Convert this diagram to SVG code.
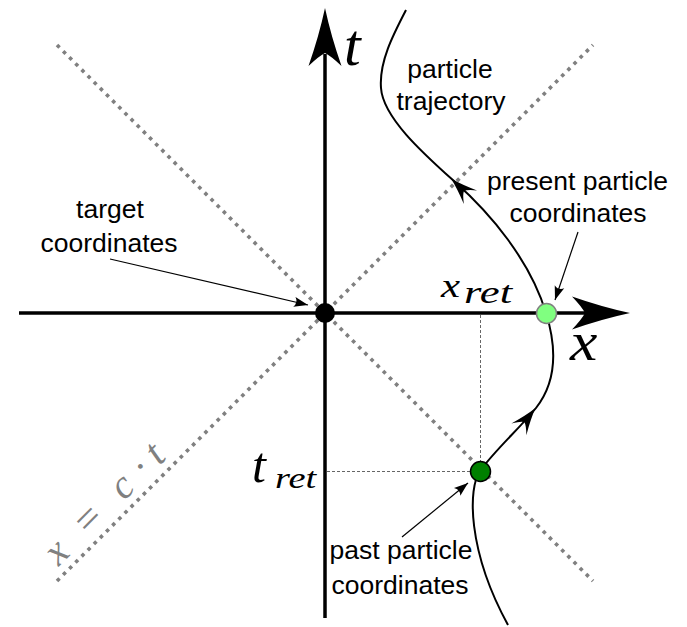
<svg xmlns="http://www.w3.org/2000/svg" width="687" height="627" viewBox="0 0 687 627">
  <defs>
    <style>
      .lbl { font-family: "Liberation Sans", Arial, sans-serif; font-size: 26.5px; fill: #000; text-anchor: middle; }
      .math { font-family: "Liberation Serif", "Times New Roman", serif; font-style: italic; fill: #000; }
      .gmath { font-family: "Liberation Serif", "Times New Roman", serif; fill: #808080; text-anchor: middle; }
      .lightcone { stroke: #808080; stroke-width: 3.6; stroke-dasharray: 3.6 5.1; fill: none; }
      .guide { stroke: #666; stroke-width: 1; stroke-dasharray: 3 2; fill: none; }
      .axis { stroke: #000; stroke-width: 3.5; fill: none; }
      .traj { stroke: #000; stroke-width: 2; fill: none; }
      .pointer { stroke: #000; stroke-width: 1.2; fill: none; marker-end: url(#thin); }
    </style>
    <marker id="thin" markerUnits="userSpaceOnUse" markerWidth="16" markerHeight="12" viewBox="-14 -6 15 12" refX="0" refY="0" orient="auto">
      <path d="M0,0 L-14,-5 Q-10,0 -14,5 Z" fill="#000"/>
    </marker>
    <path id="bigHead" d="M0,0 Q-28,-6 -58,-16.5 Q-48,-6 -45,0 Q-48,6 -58,16.5 Q-28,6 0,0 Z" fill="#000"/>
    <path id="trajHead" d="M0,0 Q-12,-3 -27,-9.5 Q-19,-3 -18,0 Q-19,3 -27,9.5 Q-12,3 0,0 Z" fill="#000"/>
  </defs>

  <rect width="687" height="627" fill="#fff"/>

  <g id="connectors">
    <!-- light cone lines -->
    <line class="lightcone" x1="57" y1="45" x2="593" y2="581"/>
    <line class="lightcone" x1="57" y1="581" x2="593" y2="45"/>
    <!-- retarded projections -->
    <line class="guide" x1="480.5" y1="315" x2="480.5" y2="461"/>
    <line class="guide" x1="327" y1="471.5" x2="470" y2="471.5"/>
    <!-- axes -->
    <line class="axis" x1="325" y1="618" x2="325" y2="54"/>
    <use href="#bigHead" transform="translate(325,8) rotate(-90)"/>
    <line class="axis" x1="19" y1="313" x2="587" y2="313"/>
    <use href="#bigHead" transform="translate(630,313)"/>
    <!-- particle trajectory -->
    <path class="traj" d="M406,10 C393,35 379,62 381,88 C383,118 425,155 455,182 C490,213 530,260 546,313 C556,345 558,380 536,408 C520,428 495,450 480,471 C468,488 467,550 508,625"/>
    <use href="#trajHead" transform="translate(451,178.5) rotate(-136)"/>
    <use href="#trajHead" transform="translate(535.5,408) rotate(-52)"/>
    <!-- label pointers -->
    <line class="pointer" x1="110" y1="259" x2="308" y2="305"/>
    <line class="pointer" x1="578" y1="232" x2="555" y2="300"/>
    <line class="pointer" x1="402" y1="537" x2="468" y2="483"/>
  </g>

  <g id="target">
    <circle cx="325" cy="313" r="10" fill="#000"/>
    <text class="lbl" x="110" y="218">target</text>
    <text class="lbl" x="109" y="252">coordinates</text>
  </g>

  <g id="present">
    <circle cx="546.5" cy="313.5" r="10" fill="#80ff80" stroke="#808080" stroke-width="1.5"/>
    <text class="lbl" x="577.5" y="189.5">present particle</text>
    <text class="lbl" x="578" y="221.5">coordinates</text>
  </g>

  <g id="past">
    <circle cx="480.5" cy="471.5" r="10" fill="#008000" stroke="#000" stroke-width="1.5"/>
    <text class="lbl" x="401" y="559">past particle</text>
    <text class="lbl" x="400" y="594">coordinates</text>
  </g>

  <g id="trajectory-label">
    <text class="lbl" x="450" y="78">particle</text>
    <text class="lbl" x="451" y="110">trajectory</text>
  </g>

  <g id="axis-labels">
    <text class="math" x="344" y="65" font-size="60">t</text>
    <text class="math" transform="translate(570,360) scale(1.12,1)" font-size="55">x</text>
    <text class="math" transform="translate(441,297) scale(1.3,1)" font-size="33">x</text>
    <text class="math" transform="translate(464,303) scale(1.4,1)" font-size="32">ret</text>
    <text class="math" x="252" y="482" font-size="50">t</text>
    <text class="math" transform="translate(275,488) scale(1.28,1)" font-size="30">ret</text>
  </g>

  <g id="lightcone-label" transform="translate(51.75,573.75) rotate(-45)">
    <text class="gmath" x="18.7" y="0" font-size="40" font-style="italic">x</text>
    <text class="gmath" x="64.7" y="0" font-size="42">=</text>
    <text class="gmath" x="111.4" y="0" font-size="40" font-style="italic">c</text>
    <text class="gmath" x="138.4" y="0" font-size="40">·</text>
    <text class="gmath" x="158" y="0" font-size="40" font-style="italic">t</text>
  </g>
</svg>
